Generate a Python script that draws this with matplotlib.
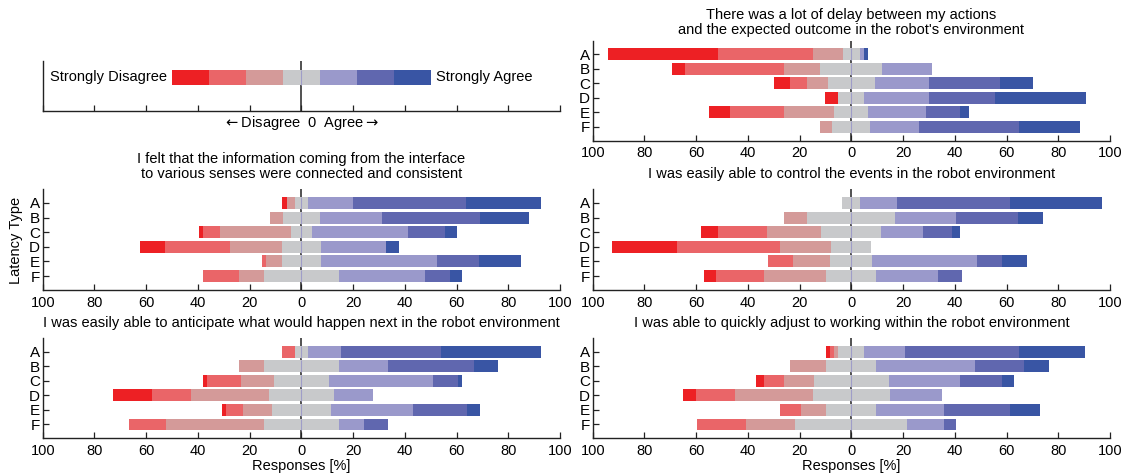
import numpy as np
import matplotlib
matplotlib.use("Agg")
import matplotlib.pyplot as plt

plt.rcParams['font.family'] = ['Liberation Sans', 'DejaVu Sans']

# Likert levels: SD, D, SWD, N, SWA, A, SA  (percent of responses)
levels = ["Strongly Disagree", "Disagree", "Somewhat Disagree", "Neutral",
          "Somewhat Agree", "Agree", "Strongly Agree"]
colors = ['#ED2024', '#EA6568', '#D49A99', '#C8C9CB', '#9A99CB', '#6067AF', '#3955A4']
latency = ["A", "B", "C", "D", "E", "F"]

legend_widths = [14.3, 14.3, 14.3, 14.3, 14.3, 14.3, 14.3]

delay = [[42.3, 36.8, 11.6, 6.5, 1.6, 0, 1.5],
         [5.1, 38.3, 14.0, 24.0, 19.3, 0, 0],
         [6.3, 6.5, 8.1, 18.3, 20.8, 27.6, 12.7],
         [5.1, 0, 0, 10.1, 25.1, 25.2, 35.2],
         [8.2, 20.8, 19.4, 13.1, 22.5, 13.1, 3.2],
         [0, 0, 4.6, 14.7, 18.9, 38.4, 23.6]]

info = [[1.9, 0, 3.1, 4.9, 17.7, 43.4, 29.0],
        [0, 0, 5.0, 14.3, 24.0, 37.8, 18.9],
        [1.5, 6.6, 27.5, 8.1, 37.0, 14.3, 5.0],
        [9.7, 25.1, 20.1, 15.0, 25.2, 0, 4.9],
        [0, 1.5, 6.2, 15.0, 44.9, 16.1, 16.3],
        [0, 13.9, 9.7, 28.9, 33.3, 9.6, 4.7]]

control = [[0, 0, 0, 6.9, 14.3, 43.6, 35.4],
           [0, 0, 9.1, 34.0, 23.5, 23.9, 9.7],
           [6.5, 19.2, 20.9, 23.1, 16.2, 11.1, 3.2],
           [25.1, 39.7, 20.0, 15.4, 0, 0, 0],
           [0, 9.7, 14.6, 16.2, 40.5, 9.7, 9.6],
           [4.7, 18.8, 23.9, 19.4, 23.9, 9.2, 0]]

anticipate = [[0, 5.0, 0, 4.9, 12.9, 38.6, 38.6],
              [0, 0, 9.7, 28.9, 18.9, 33.3, 9.2],
              [1.6, 13.3, 12.5, 21.3, 40.1, 9.7, 1.6],
              [15.2, 15.0, 30.1, 25.1, 15.0, 0, 0],
              [1.6, 6.4, 11.4, 22.7, 32.0, 20.8, 5.1],
              [0, 14.4, 37.8, 28.9, 9.7, 9.2, 0]]

adjust = [[1.6, 1.6, 1.5, 10.1, 15.8, 43.9, 25.5],
          [0, 0, 14.2, 19.4, 38.1, 18.9, 9.8],
          [3.2, 7.9, 11.3, 29.2, 27.5, 16.2, 4.5],
          [5.1, 15.0, 30.1, 30.0, 20.1, 0, 0],
          [0, 8.1, 9.9, 19.4, 26.2, 25.5, 11.4],
          [0, 19.2, 18.9, 43.3, 14.2, 4.6, 0]]

titles = {
    "delay": "There was a lot of delay between my actions\nand the expected outcome in the robot's environment",
    "info": "I felt that the information coming from the interface\nto various senses were connected and consistent",
    "control": "I was easily able to control the events in the robot environment",
    "anticipate": "I was easily able to anticipate what would happen next in the robot environment",
    "adjust": "I was able to quickly adjust to working within the robot environment",
}

W, H = 1130, 476
FS = 10.5
fig = plt.figure(figsize=(W / 100, H / 100), dpi=100)


def rect(l, t, r, b):
    return [l / W, 1 - b / H, (r - l) / W, (b - t) / H]


def style_axes(ax, labels=True):
    ax.set_xlim(-100, 100)
    for s in ['top', 'right']:
        ax.spines[s].set_visible(False)
    for s in ['left', 'bottom']:
        ax.spines[s].set_linewidth(1.0)
        ax.spines[s].set_color('#222222')
    ticks = np.arange(-100, 101, 20)
    ax.set_xticks(ticks)
    if labels:
        ax.set_xticklabels([str(abs(t)) for t in ticks], fontsize=FS)
    else:
        ax.set_xticklabels([])
    ax.tick_params(direction='in', length=4, width=0.9, color='#222222', pad=4)


def likert(ax, data, title, title_y, xlabel=False):
    data = np.array(data, dtype=float)
    y = np.arange(len(latency))
    left = -(data[:, 0] + data[:, 1] + data[:, 2] + data[:, 3] / 2)
    ax.axvline(0, color='#333333', lw=1.2, zorder=1)
    for k in range(len(levels)):
        ax.barh(y, data[:, k], left=left, height=0.82, color=colors[k],
                edgecolor='none', zorder=2)
        left = left + data[:, k]
    ax.vlines(np.zeros(len(y)), y - 0.41, y + 0.41, color='#9f9dc8', lw=0.8, zorder=3)
    ax.set_ylim(5.95, -0.93)
    ax.set_yticks(y)
    ax.set_yticklabels(latency, fontsize=11)
    style_axes(ax)
    ax.tick_params(axis='y', pad=2)
    pos = ax.get_position()
    fig.text(pos.x0 + pos.width / 2, 1 - title_y / H, title, ha='center',
             va='center', fontsize=FS, linespacing=1.15)
    if xlabel:
        ax.set_xlabel("Responses [%]", fontsize=FS, labelpad=1)


# legend panel
leg = fig.add_axes(rect(42.7, 60.7, 560, 111))
lleft = -(legend_widths[0] + legend_widths[1] + legend_widths[2] + legend_widths[3] / 2)
leg.axvline(0, color='#333333', lw=1.2, zorder=1)
for k in range(len(levels)):
    leg.barh(0.67, legend_widths[k], left=lleft, height=0.29, color=colors[k],
             edgecolor='none', zorder=2)
    lleft += legend_widths[k]
leg.vlines(0, 0.67 - 0.145, 0.67 + 0.145, color='#9f9dc8', lw=0.8, zorder=3)
leg.set_ylim(0, 1)
leg.set_yticks([])
style_axes(leg, labels=False)
leg.text(-52, 0.67, levels[0], ha='right', va='center', fontsize=FS)
leg.text(52, 0.67, levels[-1], ha='left', va='center', fontsize=FS)
leg.text(0, -0.24, r"$\leftarrow$Disagree  0  Agree$\rightarrow$", ha='center',
         va='center', fontsize=FS, transform=leg.get_xaxis_transform())

ax1 = fig.add_axes(rect(592.7, 40.7, 1110, 140.7))
ax2 = fig.add_axes(rect(42.7, 189.3, 560, 290))
ax3 = fig.add_axes(rect(592.7, 189.3, 1110, 290))
ax4 = fig.add_axes(rect(42.7, 338.3, 560, 438.3))
ax5 = fig.add_axes(rect(592.7, 338.3, 1110, 438.3))

likert(ax1, delay, titles["delay"], 22.5)
likert(ax2, info, titles["info"], 166.5)
likert(ax3, control, titles["control"], 174)
likert(ax4, anticipate, titles["anticipate"], 323, xlabel=True)
likert(ax5, adjust, titles["adjust"], 323, xlabel=True)

fig.text(16 / W, 1 - 240 / H, "Latency Type", rotation=90, ha='center', va='center',
         fontsize=FS)

fig.savefig("out.png", dpi=100)
